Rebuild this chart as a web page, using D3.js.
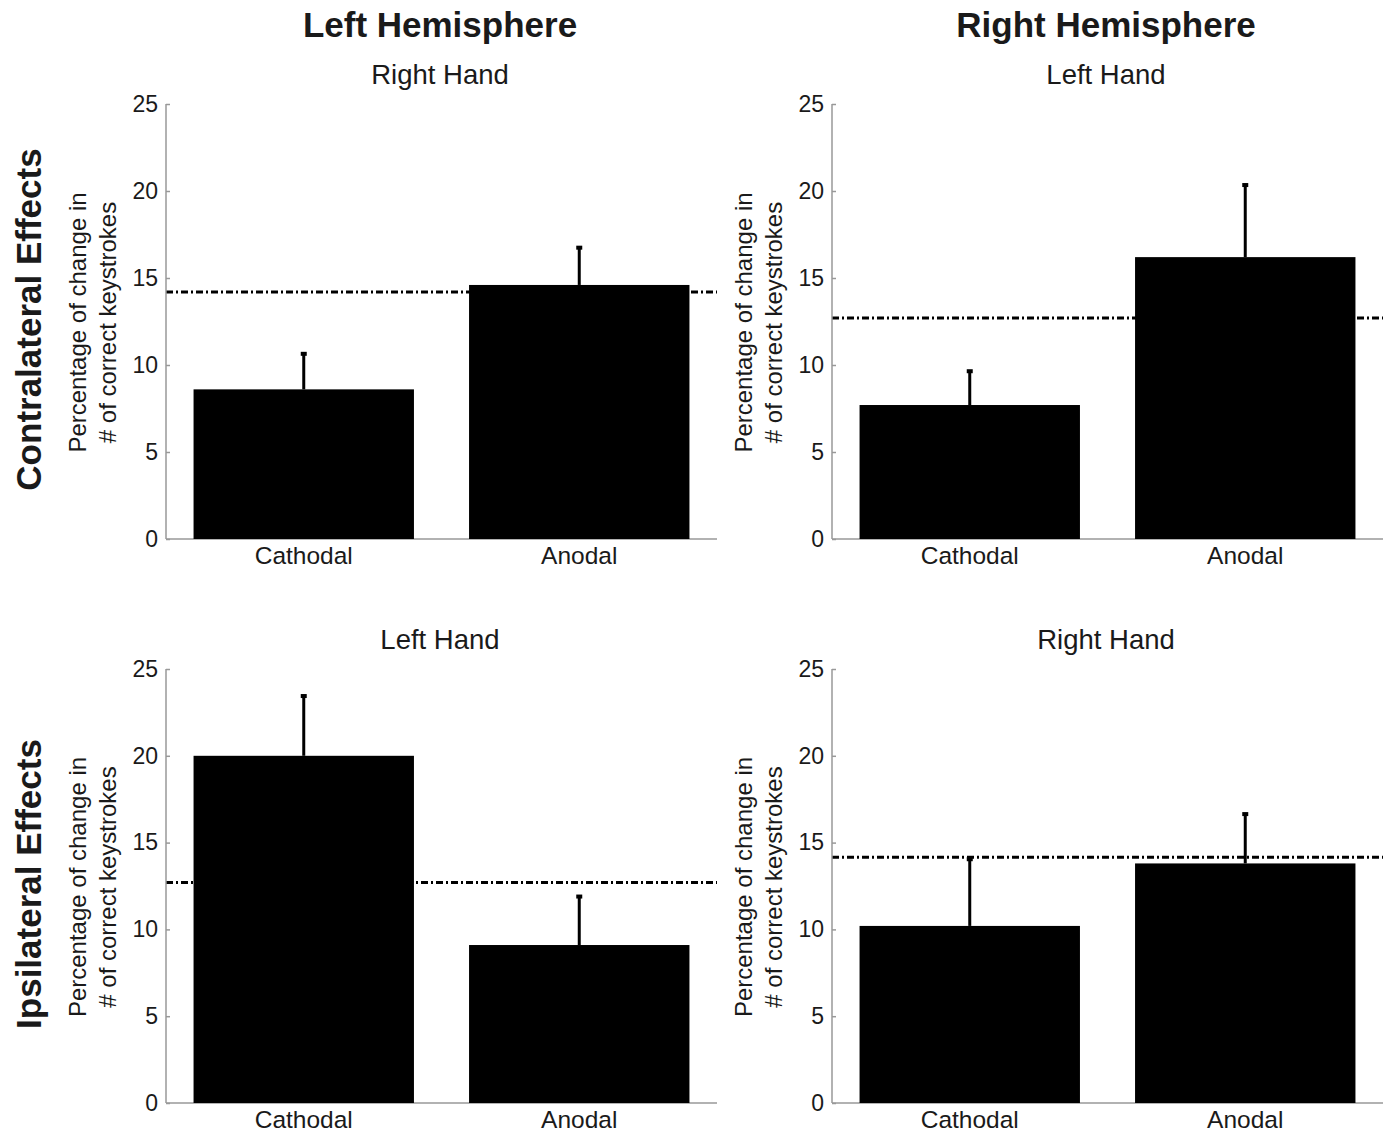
<!DOCTYPE html>
<html><head><meta charset="utf-8">
<script src="https://cdn.jsdelivr.net/npm/d3@7"></script>
<style>body{margin:0;background:#fff}svg{display:block}text{font-family:"Liberation Sans",Arial,Helvetica,sans-serif;fill:#1a1a1a}</style>
</head><body><svg id="c" width="1392" height="1132"></svg>
<script>
const categories = ["Cathodal", "Anodal"];
const hemispheres = ["Left Hemisphere", "Right Hemisphere"];
const effects = ["Contralateral Effects", "Ipsilateral Effects"];
const panelTitles = ["Right Hand", "Left Hand", "Left Hand", "Right Hand"];
const means = [[8.6, 14.6], [7.7, 16.2], [20.0, 9.1], [10.2, 13.8]];
const errors = [[2.1, 2.2], [2.0, 4.2], [3.5, 2.85], [3.9, 2.9]];
const baselines = [14.2, 12.7, 12.7, 14.15];
const yTicks = [0, 5, 10, 15, 20, 25];
const yLabelLines = ["Percentage of change in", "# of correct keystrokes"];

const svg = d3.select("#c");
const colX = [166, 832], axisW = 551;
const rowY = [[104, 539], [669, 1103]];

hemispheres.forEach((h, c) => {
  svg.append("text").attr("x", colX[c] + 274).attr("y", 37).attr("text-anchor", "middle")
    .attr("font-size", 35).attr("font-weight", "bold").text(h);
});
effects.forEach((e, r) => {
  const cy = (rowY[r][0] + rowY[r][1]) / 2 - 2;
  svg.append("text").attr("transform", `translate(41,${cy}) rotate(-90)`).attr("text-anchor", "middle")
    .attr("font-size", 35).attr("font-weight", "bold").text(e);
});

for (let r = 0; r < 2; r++) for (let c = 0; c < 2; c++) {
  const i = r * 2 + c;
  const x0 = colX[c], [yTop, yBot] = rowY[r];
  const x = d3.scaleBand().domain(categories).range([x0, x0 + axisW]).padding(0);
  const y = d3.scaleLinear().domain([0, 25]).range([yBot, yTop]);
  const g = svg.append("g");
  const bw = x.bandwidth() * 0.8;
  const data = categories.map((k, j) => ({k, v: means[i][j], e: errors[i][j]}));

  // dashed reference line
  g.append("line").attr("x1", x0).attr("x2", x0 + axisW).attr("y1", y(baselines[i])).attr("y2", y(baselines[i]))
    .attr("stroke", "#000").attr("stroke-width", 3).attr("stroke-dasharray", "7,3,2,3");

  // axes
  const ya = d3.axisLeft(y).tickValues(yTicks).tickSize(-4).tickPadding(8);
  const ag = g.append("g").attr("transform", `translate(${x0},0)`).call(ya);
  ag.select(".domain").remove();
  ag.selectAll(".tick line").attr("stroke", "#999").attr("stroke-width", 1.5);
  ag.selectAll(".tick text").attr("font-size", 23).attr("font-family", "Liberation Sans, Arial, sans-serif").attr("fill", "#1a1a1a");
  g.append("line").attr("x1", x0).attr("x2", x0).attr("y1", yTop).attr("y2", yBot).attr("stroke", "#999").attr("stroke-width", 1.5);
  g.append("line").attr("x1", x0).attr("x2", x0 + axisW).attr("y1", yBot).attr("y2", yBot).attr("stroke", "#999").attr("stroke-width", 1.5);

  // bars
  g.selectAll("rect.bar").data(data).join("rect").attr("class", "bar")
    .attr("x", d => x(d.k) + (x.bandwidth() - bw) / 2).attr("width", bw)
    .attr("y", d => y(d.v)).attr("height", d => y(0) - y(d.v)).attr("fill", "#000");
  // error bars
  g.selectAll("line.err").data(data).join("line").attr("class", "err")
    .attr("x1", d => x(d.k) + x.bandwidth() / 2).attr("x2", d => x(d.k) + x.bandwidth() / 2)
    .attr("y1", d => y(d.v)).attr("y2", d => y(d.v + d.e)).attr("stroke", "#000").attr("stroke-width", 3);
  g.selectAll("rect.cap").data(data).join("rect").attr("class", "cap")
    .attr("x", d => x(d.k) + x.bandwidth() / 2 - 3).attr("width", 6)
    .attr("y", d => y(d.v + d.e) - 1).attr("height", 4).attr("fill", "#000");

  // category labels
  g.selectAll("text.cat").data(categories).join("text").attr("class", "cat")
    .attr("x", d => x(d) + x.bandwidth() / 2).attr("y", yBot + 25).attr("text-anchor", "middle")
    .attr("font-size", 24.5).text(d => d);

  // panel title
  g.append("text").attr("x", x0 + 274).attr("y", yTop - 20).attr("text-anchor", "middle")
    .attr("font-size", 27.5).text(panelTitles[i]);

  // y label
  const cy = (yTop + yBot) / 2 + 1;
  yLabelLines.forEach((t, li) => {
    g.append("text").attr("transform", `translate(${x0 - 80 + li * 30},${cy}) rotate(-90)`)
      .attr("text-anchor", "middle").attr("font-size", 24).text(t);
  });
}
</script></body></html>
